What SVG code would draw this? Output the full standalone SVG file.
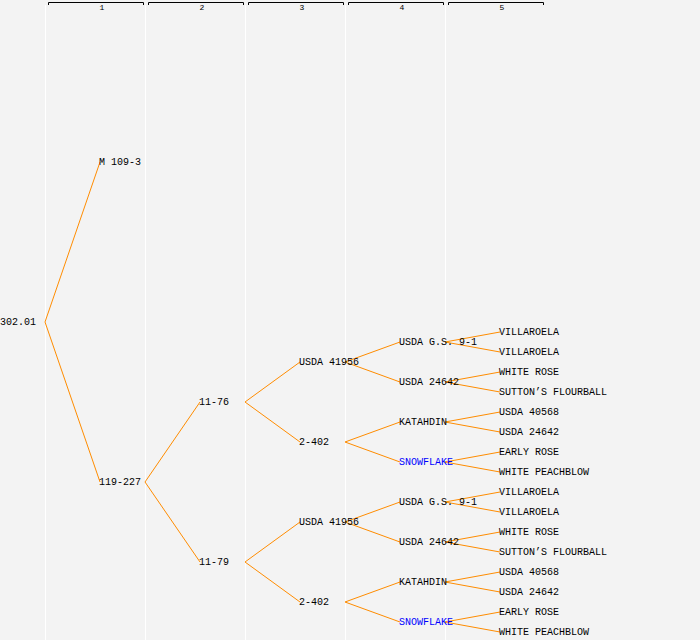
<svg xmlns="http://www.w3.org/2000/svg" width="700" height="640" viewBox="0 0 700 640">
<style>
text{font-family:"Liberation Mono","DejaVu Sans Mono",monospace;font-size:10px;fill:#000}
.hdr{font-size:8px;text-anchor:middle}
.blue{fill:#0000ff}
.e{stroke:#ff8c00;stroke-width:1;fill:none}
.col{stroke:#ffffff;stroke-width:1}
.br{stroke:#000;stroke-width:1;fill:none}
</style>
<rect width="700" height="640" fill="#f3f3f3"/>
<g id="columns">
<line class="col" x1="45.5" y1="5" x2="45.5" y2="640"/>
<line class="col" x1="145.5" y1="5" x2="145.5" y2="640"/>
<line class="col" x1="245.5" y1="5" x2="245.5" y2="640"/>
<line class="col" x1="345.5" y1="5" x2="345.5" y2="640"/>
<line class="col" x1="445.5" y1="5" x2="445.5" y2="640"/>
</g>
<g id="header">
<path class="br" d="M48.5,5V2.5H143.5V5"/><text class="hdr" x="102" y="10">1</text>
<path class="br" d="M148.5,5V2.5H243.5V5"/><text class="hdr" x="202" y="10">2</text>
<path class="br" d="M248.5,5V2.5H343.5V5"/><text class="hdr" x="302" y="10">3</text>
<path class="br" d="M348.5,5V2.5H443.5V5"/><text class="hdr" x="402" y="10">4</text>
<path class="br" d="M448.5,5V2.5H543.5V5"/><text class="hdr" x="502" y="10">5</text>
</g>
<g id="connectors">
<path class="e" d="M45,322L100,162M45,322L100,482"/>
<path class="e" d="M145,482L200,402M145,482L200,562"/>
<path class="e" d="M245,402L300,362M245,402L300,442M245,562L300,522M245,562L300,602"/>
<path class="e" d="M345,362L400,342M345,362L400,382M345,442L400,422M345,442L400,462M345,522L400,502M345,522L400,542M345,602L400,582M345,602L400,622"/>
<path class="e" d="M445,342L500,332M445,342L500,352M445,382L500,372M445,382L500,392M445,422L500,412M445,422L500,432M445,462L500,452M445,462L500,472"/>
<path class="e" d="M445,502L500,492M445,502L500,512M445,542L500,532M445,542L500,552M445,582L500,572M445,582L500,592M445,622L500,612M445,622L500,632"/>
</g>
<g id="n-302-01"><text x="0" y="325">302.01</text></g>
<g id="n-m109-3"><text x="99" y="165">M 109-3</text></g>
<g id="n-119-227"><text x="99" y="485">119-227</text></g>
<g id="n-11-76"><text x="199" y="405">11-76</text></g>
<g id="n-11-79"><text x="199" y="565">11-79</text></g>
<g id="n-usda41956-a"><text x="299" y="365">USDA 41956</text></g>
<g id="n-2-402-a"><text x="299" y="445">2-402</text></g>
<g id="n-usda41956-b"><text x="299" y="525">USDA 41956</text></g>
<g id="n-2-402-b"><text x="299" y="605">2-402</text></g>
<g id="n-usdags91-a"><text x="399" y="345">USDA G.S. 9-1</text></g>
<g id="n-usda24642-a"><text x="399" y="385">USDA 24642</text></g>
<g id="n-katahdin-a"><text x="399" y="425">KATAHDIN</text></g>
<g id="n-snowflake-a"><text class="blue" x="399" y="465">SNOWFLAKE</text></g>
<g id="n-usdags91-b"><text x="399" y="505">USDA G.S. 9-1</text></g>
<g id="n-usda24642-b"><text x="399" y="545">USDA 24642</text></g>
<g id="n-katahdin-b"><text x="399" y="585">KATAHDIN</text></g>
<g id="n-snowflake-b"><text class="blue" x="399" y="625">SNOWFLAKE</text></g>
<g id="n-leaf1"><text x="499" y="335">VILLAROELA</text></g>
<g id="n-leaf2"><text x="499" y="355">VILLAROELA</text></g>
<g id="n-leaf3"><text x="499" y="375">WHITE ROSE</text></g>
<g id="n-leaf4"><text x="499" y="395">SUTTON’S FLOURBALL</text></g>
<g id="n-leaf5"><text x="499" y="415">USDA 40568</text></g>
<g id="n-leaf6"><text x="499" y="435">USDA 24642</text></g>
<g id="n-leaf7"><text x="499" y="455">EARLY ROSE</text></g>
<g id="n-leaf8"><text x="499" y="475">WHITE PEACHBLOW</text></g>
<g id="n-leaf9"><text x="499" y="495">VILLAROELA</text></g>
<g id="n-leaf10"><text x="499" y="515">VILLAROELA</text></g>
<g id="n-leaf11"><text x="499" y="535">WHITE ROSE</text></g>
<g id="n-leaf12"><text x="499" y="555">SUTTON’S FLOURBALL</text></g>
<g id="n-leaf13"><text x="499" y="575">USDA 40568</text></g>
<g id="n-leaf14"><text x="499" y="595">USDA 24642</text></g>
<g id="n-leaf15"><text x="499" y="615">EARLY ROSE</text></g>
<g id="n-leaf16"><text x="499" y="635">WHITE PEACHBLOW</text></g>
</svg>
